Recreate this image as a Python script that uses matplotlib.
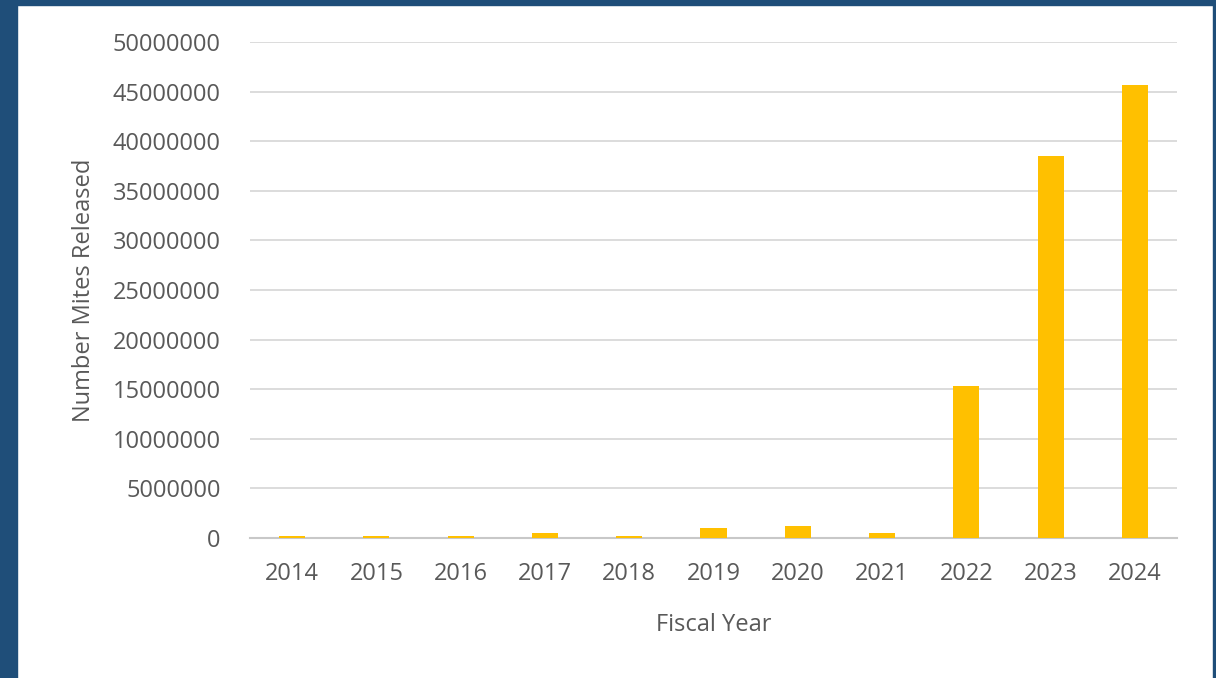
import matplotlib.pyplot as plt
from matplotlib.patches import Rectangle

# Data
years = ['2014', '2015', '2016', '2017', '2018', '2019', '2020', '2021', '2022', '2023', '2024']
mites = [250000, 250000, 250000, 470000, 250000, 980000, 1240000, 470000,
         15300000, 38500000, 45700000]
y_ticks = list(range(0, 50000001, 5000000))

plt.rcParams['font.family'] = ['Open Sans', 'DejaVu Sans']
grey = '#595959'

fig = plt.figure(figsize=(12.16, 6.78), dpi=100)
W, H = 1216, 678

# Blue frame around the white panel
for (x0, y0, w, h) in [(0, 0, 17, H), (0, H - 5, W, 5), (1213, 0, 3, H)]:
    fig.patches.append(Rectangle((x0 / W, y0 / H), w / W, h / H,
                                 transform=fig.transFigure, color='#1F4E79', zorder=0))

ax = fig.add_axes([250 / W, (H - 538) / H, (1177 - 250) / W, (538 - 42) / H])
x = range(len(years))
ax.bar(x, mites, width=0.31, color='#FFC000', zorder=3)

ax.set_xlim(-0.5, len(years) - 0.5)
ax.set_ylim(0, 50000000)
ax.set_yticks(y_ticks)
ax.set_yticklabels([str(v) for v in y_ticks])
ax.set_xticks(list(x))
ax.set_xticklabels(years)

ax.grid(axis='y', color='#d9d9d9', linewidth=1.3, zorder=0)
for s in ['top', 'right', 'left']:
    ax.spines[s].set_visible(False)
ax.spines['bottom'].set_color('#c8c8c8')
ax.spines['bottom'].set_linewidth(1.5)
ax.tick_params(length=0, labelsize=17, labelcolor=grey)
ax.tick_params(axis='y', pad=21)
ax.tick_params(axis='x', pad=17)

ax.set_xlabel('Fiscal Year', fontsize=17, color=grey, labelpad=20)
ax.set_ylabel('Number Mites Released', fontsize=17, color=grey, labelpad=12)

fig.savefig('out.png', dpi=100)
